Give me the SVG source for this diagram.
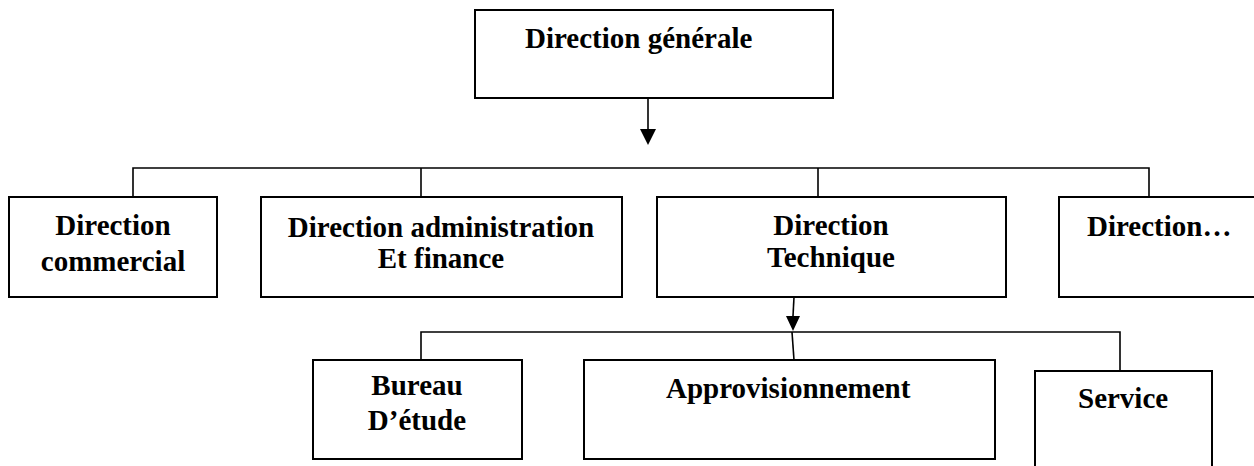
<svg xmlns="http://www.w3.org/2000/svg" width="1254" height="466" viewBox="0 0 1254 466">
<style>
.box{fill:#fff;stroke:#000;stroke-width:2}
.lbl{font-family:"Liberation Serif","Times New Roman",serif;font-weight:bold;font-size:29px;fill:#000}
.mid{text-anchor:middle}
.con{fill:none;stroke:#000;stroke-width:1.6}
</style>
<rect width="1254" height="466" fill="#fff"/>
<g id="connectors">
<line class="con" x1="648" y1="98" x2="648" y2="129"/>
<path d="M640,129 L656,129 L648,145 Z" fill="#000"/>
<path class="con" d="M133,197 V168 H1149 V197"/>
<line class="con" x1="421" y1="168" x2="421" y2="197"/>
<line class="con" x1="818" y1="168" x2="818" y2="197"/>
<path class="con" d="M421,360 V332 H1120 V371"/>
<line class="con" x1="794" y1="297" x2="793" y2="316"/>
<path d="M786,316 L800,316 L793,331 Z" fill="#000"/>
<line class="con" x1="792" y1="332" x2="794" y2="360"/>
</g>
<g id="n-direction-generale">
<rect class="box" x="475" y="10" width="358" height="88"/>
<text class="lbl" x="525" y="48">Direction générale</text>
</g>
<g id="n-direction-commercial">
<rect class="box" x="9" y="197" width="208" height="100"/>
<text class="lbl mid" x="113" y="235">Direction</text>
<text class="lbl mid" x="113" y="271">commercial</text>
</g>
<g id="n-direction-administration">
<rect class="box" x="261" y="197" width="361" height="100"/>
<text class="lbl mid" x="441" y="237">Direction administration</text>
<text class="lbl mid" x="441" y="268">Et finance</text>
</g>
<g id="n-direction-technique">
<rect class="box" x="657" y="197" width="349" height="100"/>
<text class="lbl mid" x="831" y="235">Direction</text>
<text class="lbl mid" x="831" y="267">Technique</text>
</g>
<g id="n-direction-autre">
<rect class="box" x="1059" y="197" width="210" height="100"/>
<text class="lbl" x="1087" y="236">Direction…</text>
</g>
<g id="n-bureau-etude">
<rect class="box" x="313" y="360" width="209" height="99"/>
<text class="lbl mid" x="417" y="395">Bureau</text>
<text class="lbl mid" x="417" y="430">D’étude</text>
</g>
<g id="n-approvisionnement">
<rect class="box" x="584" y="360" width="411" height="99"/>
<text class="lbl" x="666" y="398">Approvisionnement</text>
</g>
<g id="n-service">
<rect class="box" x="1035" y="371" width="177" height="110"/>
<text class="lbl" x="1078" y="408">Service</text>
</g>
</svg>
